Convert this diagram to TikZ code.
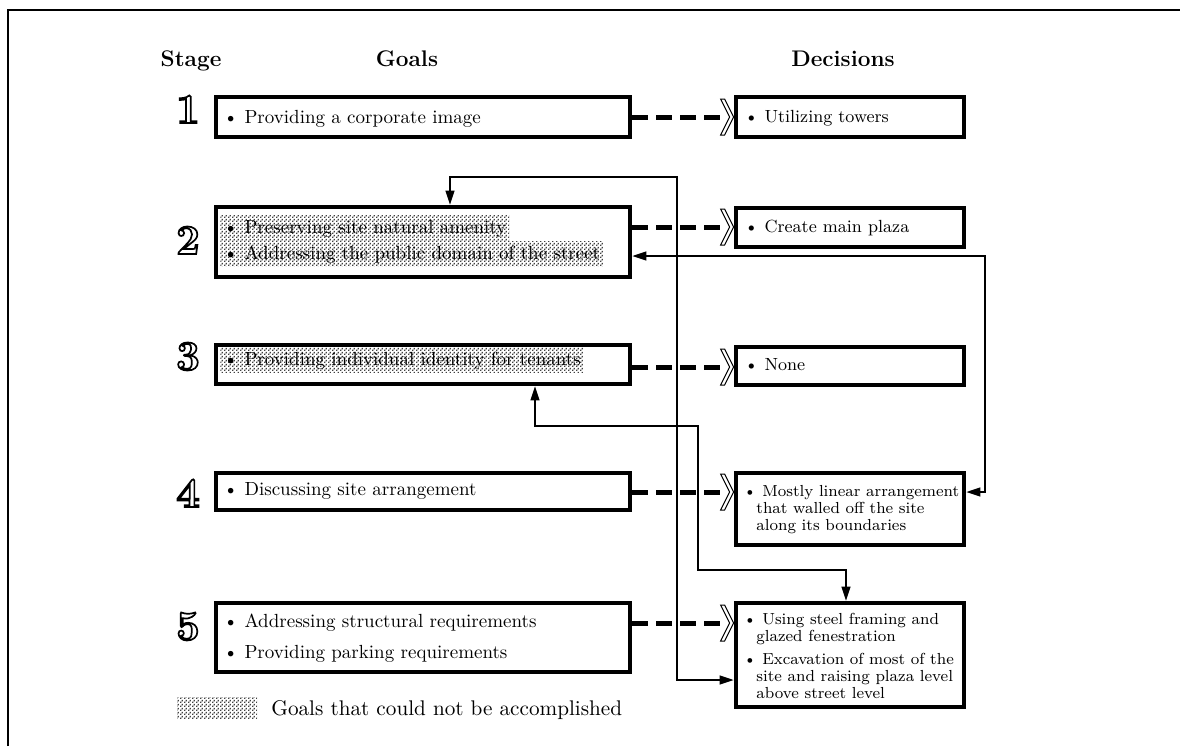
\documentclass[tikz,border=0pt]{standalone}
\usepackage{fontspec}
\usetikzlibrary{arrows.meta,fit,patterns}
\pgfdeclarepatternformonly{fdots}{\pgfqpoint{0pt}{0pt}}{\pgfqpoint{2pt}{2pt}}{\pgfqpoint{2pt}{2pt}}{%
  \pgfpathrectangle{\pgfqpoint{0pt}{0pt}}{\pgfqpoint{0.85pt}{0.85pt}}%
  \pgfpathrectangle{\pgfqpoint{1pt}{1pt}}{\pgfqpoint{0.85pt}{0.85pt}}%
  \pgfusepath{fill}}
\newcommand\outlinedigit[1]{\special{pdf:literal direct 2 Tr 0.85 w 1 g 0 G}#1\special{pdf:literal direct 0 Tr 0 g}}
\begin{document}
\begin{tikzpicture}[x=0.5pt,y=-0.5pt,
  box/.style={draw,line width=2.4pt,inner sep=0pt},
  gtxt/.style={anchor=base west,inner sep=0pt,font=\fontsize{9.5}{12}\selectfont},
  dtxt/.style={anchor=base west,inner sep=0pt,font=\fontsize{8.8}{11}\selectfont},
  dtxts/.style={anchor=base west,inner sep=0pt,font=\fontsize{8}{10}\selectfont},
  hl/.style={pattern=fdots,pattern color=black!75,inner xsep=1.5pt,inner ysep=2pt},
  hdr/.style={anchor=base,inner sep=0pt,font=\bfseries\fontsize{11.3}{13}\selectfont},
  snum/.style={anchor=base,inner sep=0pt,font=\bfseries\fontsize{21}{24}\selectfont},
  dashconn/.style={line width=2.5pt,dash pattern=on 8pt off 4pt},
  conn/.style={line width=0.65pt,{Triangle[length=7pt,width=4.5pt]}-{Triangle[length=7pt,width=4.5pt]}},
  chevron/.pic={\filldraw[fill=white,line width=0.5pt,line join=miter] (-13,-18) -- (-9,-18) -- (0,0) -- (-9,18) -- (-13,18) -- (-4,0) -- cycle;}
]
\useasboundingbox (0,0) rectangle (1180,746);
\draw[line width=0.7pt] (8,746) -- (8,10) -- (1180,10);

% headers
\node[hdr] (hs) at (191,66) {Stage};
\node[hdr] (hg) at (407,66) {Goals};
\node[hdr] (hd) at (843,66) {Decisions};

% stage digits (outlined)
\foreach \n/\yy in {1/123,2/254,3/370,4/507,5/640}{
  \node[snum] (s\n) at (188,\yy) {\outlinedigit{\n}};
}

% goal boxes
\node[box,fit={(216,97)(630,137)}] (g1) {};
\node[box,fit={(216,207)(630,277)}] (g2) {};
\node[box,fit={(216,345)(630,384)}] (g3) {};
\node[box,fit={(216,473)(630,510)}] (g4) {};
\node[box,fit={(216,603)(630,672)}] (g5) {};
% decision boxes
\node[box,fit={(736,97)(964,137)}] (d1) {};
\node[box,fit={(736,208)(964,247)}] (d2) {};
\node[box,fit={(736,347)(964,385)}] (d3) {};
\node[box,fit={(736,473)(964,545)}] (d4) {};
\node[box,fit={(736,603)(964,707)}] (d5) {};

% goal texts
\node[gtxt] (t1) at (223,123) {\textbullet\ Providing a corporate image};
\node[gtxt,hl] (t2a) at (220,233) {\textbullet\ Preserving site natural amenity};
\node[gtxt,hl] (t2b) at (220,259) {\textbullet\ Addressing the public domain of the street};
\node[gtxt,hl] (t3) at (220,365) {\textbullet\ Providing individual identity for tenants};
\node[gtxt] (t4) at (223,495) {\textbullet\ Discussing site arrangement};
\node[gtxt] (t5a) at (223,627) {\textbullet\ Addressing structural requirements};
\node[gtxt] (t5b) at (223,658) {\textbullet\ Providing parking requirements};

% decision texts
\node[dtxt] (u1) at (744,122) {\textbullet\ Utilizing towers};
\node[dtxt] (u2) at (744,232) {\textbullet\ Create main plaza};
\node[dtxt] (u3) at (744,370) {\textbullet\ None};
\node[dtxts] (u4a) at (743,496) {\textbullet\ Mostly linear arrangement};
\node[dtxts] (u4b) at (756,513) {that walled off the site};
\node[dtxts] (u4c) at (756,530) {along its boundaries};
\node[dtxts] (u5a) at (743,624) {\textbullet\ Using steel framing and};
\node[dtxts] (u5b) at (756,641) {glazed fenestration};
\node[dtxts] (u5c) at (743,664) {\textbullet\ Excavation of most of the};
\node[dtxts] (u5d) at (756,681) {site and raising plaza level};
\node[dtxts] (u5e) at (756,698) {above street level};

% dashed goal -> decision connectors
\foreach \i/\yy in {1/117,2/227,3/367,4/492,5/623}{
  \coordinate (r\i) at (0,\yy);
  \draw[dashconn] (g\i.east |- r\i) -- ([xshift=-4.5pt]d\i.west |- r\i);
  \pic at (d\i.west |- r\i) {chevron};
}

% thin connectors
\coordinate (a1) at (450,177);
\coordinate (a2) at (677,177);
\coordinate (a3) at (677,680);
\draw[conn] (a1 |- g2.north) -- (a1) -- (a2) -- (a3) -- (d5.west |- a3);

\coordinate (b1) at (535,426);
\coordinate (b2) at (698,426);
\coordinate (b3) at (698,570);
\coordinate (b4) at (846,570);
\draw[conn] (b1 |- g3.south) -- (b1) -- (b2) -- (b3) -- (b4) -- (b4 |- d5.north);

\coordinate (c1) at (985,256);
\coordinate (c2) at (985,492);
\draw[conn] (g2.east |- c1) -- (c1) -- (c2) -- (d4.east |- c2);

% legend
\node[fit={(177,697)(257,718)},inner sep=0pt,pattern=fdots,pattern color=black!75] (lg) {};
\node[anchor=base west,inner sep=0pt,font=\fontsize{10.6}{12}\selectfont] (lt) at (271,715) {Goals that could not be accomplished};
\end{tikzpicture}
\end{document}
